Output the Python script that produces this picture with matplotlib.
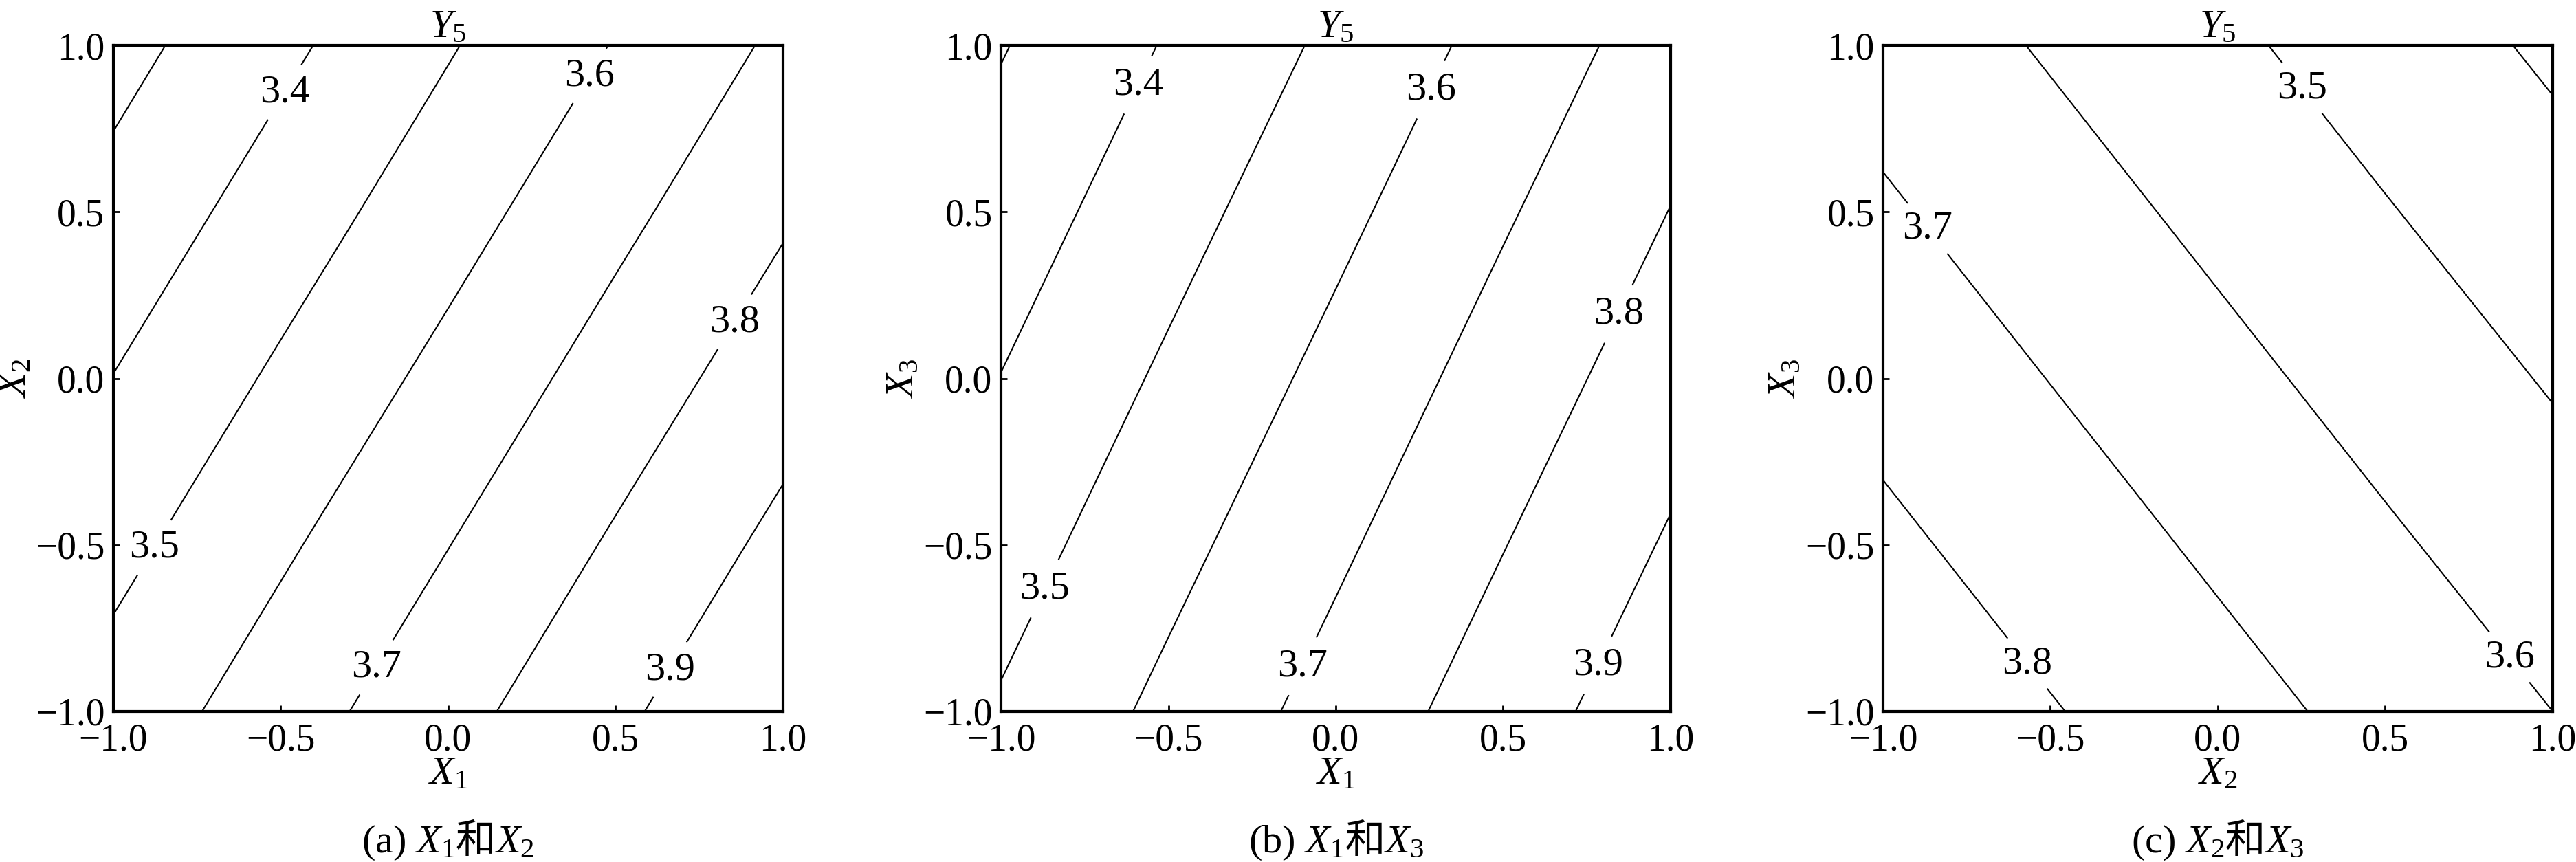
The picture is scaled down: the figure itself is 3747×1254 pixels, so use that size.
import matplotlib
matplotlib.use('Agg')
import matplotlib.pyplot as plt

plt.rcParams['font.family'] = ['Liberation Serif', 'Noto Sans CJK SC']
plt.rcParams['mathtext.fontset'] = 'custom'
plt.rcParams['mathtext.rm'] = 'Liberation Serif'
plt.rcParams['mathtext.it'] = 'Liberation Serif:italic'
plt.rcParams['mathtext.sf'] = 'Noto Sans CJK SC'

# grid points (coded levels) and Y5 at those points
grid = [-1.0, -0.5, 0.0, 0.5, 1.0]

# rows: X2 = -1 .. 1, cols: X1 = -1 .. 1
y5_x1_x2 = [
    [3.540, 3.653, 3.767, 3.880, 3.994],
    [3.471, 3.585, 3.698, 3.812, 3.925],
    [3.402, 3.516, 3.629, 3.743, 3.856],
    [3.333, 3.447, 3.560, 3.674, 3.787],
    [3.265, 3.378, 3.492, 3.605, 3.719],
]
# rows: X3 = -1 .. 1, cols: X1 = -1 .. 1
y5_x1_x3 = [
    [3.510, 3.624, 3.737, 3.851, 3.964],
    [3.456, 3.570, 3.683, 3.797, 3.910],
    [3.402, 3.516, 3.629, 3.743, 3.856],
    [3.348, 3.462, 3.575, 3.689, 3.802],
    [3.294, 3.408, 3.521, 3.635, 3.748],
]
# rows: X3 = -1 .. 1, cols: X2 = -1 .. 1
y5_x2_x3 = [
    [3.875, 3.806, 3.737, 3.668, 3.600],
    [3.821, 3.752, 3.683, 3.614, 3.546],
    [3.767, 3.698, 3.629, 3.560, 3.492],
    [3.713, 3.644, 3.575, 3.506, 3.438],
    [3.659, 3.590, 3.521, 3.452, 3.384],
]

levels = [3.3, 3.4, 3.5, 3.6, 3.7, 3.8, 3.9]

panels = [
    dict(z=y5_x1_x2, xlab='$X_1$', ylab='$X_2$', cap='(a) $X_1\\mathsf{和}X_2$',
         lab_pos=[(-0.48, 0.855), (-0.875, -0.51), (0.43, 0.905),
                  (-0.22, -0.865), (0.865, 0.165), (0.655, -0.87)],
         left=0.0440),
    dict(z=y5_x1_x3, xlab='$X_1$', ylab='$X_3$', cap='(b) $X_1\\mathsf{和}X_3$',
         lab_pos=[(-0.58, 0.877), (-0.874, -0.63), (0.31, 0.855),
                  (-0.093, -0.868), (0.856, 0.188), (0.779, -0.86)],
         left=0.3885),
    dict(z=y5_x2_x3, xlab='$X_2$', ylab='$X_3$', cap='(c) $X_2\\mathsf{和}X_3$',
         lab_pos=[(0.241, 0.863), (0.848, -0.857), (-0.882, 0.439), (-0.564, -0.853)],
         left=0.7308),
]

fig = plt.figure(figsize=(37.48, 12.54), dpi=100)

for p in panels:
    ax = fig.add_axes([p['left'], 0.175, 0.2598, 0.772])
    cs = ax.contour(grid, grid, p['z'], levels=levels, colors='black', linewidths=1.5)
    # manual positions sit on the labelled lines, so nearest-contour picking is fine
    texts = ax.clabel(cs, manual=p['lab_pos'], inline=True,
                      inline_spacing=10, fmt='%.1f', fontsize=42)
    for t in texts:
        t.set_rotation(0)

    ax.set_xlim(-1, 1)
    ax.set_ylim(-1, 1)
    ax.set_xticks(grid)
    ax.set_yticks(grid)
    ax.tick_params(direction='in', length=6.5, width=2, labelsize=40,
                   top=False, right=False)
    ax.tick_params(axis='x', pad=12)
    ax.tick_params(axis='y', pad=9)
    for s in ax.spines.values():
        s.set_linewidth(3)

    ax.set_xlabel(p['xlab'], fontsize=42, labelpad=-2)
    ax.set_ylabel(p['ylab'], fontsize=42, labelpad=2)
    ax.set_title('$Y_5$', fontsize=42, pad=3)

    fig.text(p['left'] + 0.1299, 0.011, p['cap'], fontsize=42, ha='center', va='baseline')

fig.savefig('out.png', dpi=100)
